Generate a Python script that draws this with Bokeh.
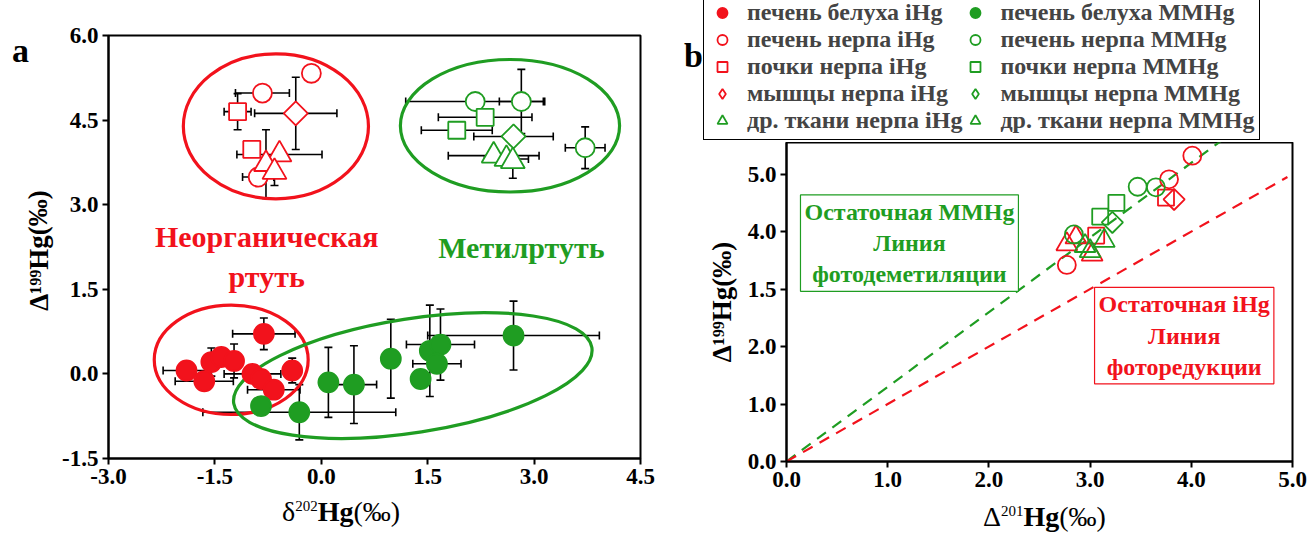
from bokeh.plotting import figure
from bokeh.models import (ColumnDataSource, Whisker, TeeHead, Label, Legend, LegendItem,
                          FixedTicker, PrintfTickFormatter, Div)
from bokeh.layouts import row, column
from bokeh.embed import file_html
from bokeh.resources import INLINE

RED = "#f2121c"
GREEN = "#1f9d22"
FONT = "Liberation Serif"

# ---------------- Panel a data: x = d202Hg, y = D199Hg ----------------
bel_i_x = [-0.81, -1.90, -1.65, -1.55, -1.41, -1.23, -0.97, -0.85, -0.67, -0.41]
bel_i_y = [0.71, 0.06, -0.13, 0.21, 0.30, 0.23, 0.00, -0.09, -0.28, 0.06]
bel_i_xe = [0.44, 0.33, 0.41, 0.0, 0.0, 0.0, 0.40, 0.0, 0.37, 0.0]
bel_i_ye = [0.28, 0.0, 0.0, 0.25, 0.0, 0.30, 0.0, 0.0, 0.0, 0.22]

bel_m_x = [-0.85, -0.31, 0.10, 0.46, 0.98, 1.40, 1.53, 1.68, 1.63, 2.71]
bel_m_y = [-0.57, -0.68, -0.15, -0.19, 0.27, -0.09, 0.41, 0.52, 0.18, 0.68]
bel_m_xe = [0.0, 1.36, 0.0, 0.32, 0.0, 0.0, 0.0, 0.48, 0.34, 1.21]
bel_m_ye = [0.0, 0.49, 0.62, 0.69, 0.70, 0.0, 0.81, 0.63, 0.0, 0.61]

liv_i_x = [-0.14, -0.83, -0.89]
liv_i_y = [5.33, 4.98, 3.49]
liv_i_xe = [0.12, 0.38, 0.22]
liv_i_ye = [0.0, 0.0, 0.0]

kid_i_x = [-1.18, -0.98]
kid_i_y = [4.65, 3.98]
kid_i_xe = [0.19, 0.0]
kid_i_ye = [0.32, 0.0]

mus_i_x = [-0.36]
mus_i_y = [4.62]
mus_i_xe = [0.58]
mus_i_ye = [0.64]

oth_i_x = [-0.59, -0.78, -0.66]
oth_i_y = [3.89, 3.72, 3.58]
oth_i_xe = [0.60, 0.0, 0.0]
oth_i_ye = [0.0, 0.61, 0.24]

liv_m_x = [2.17, 2.82, 3.72]
liv_m_y = [4.83, 4.83, 4.01]
liv_m_xe = [0.98, 0.31, 0.28]
liv_m_ye = [0.0, 0.57, 0.37]

kid_m_x = [2.31, 1.91]
kid_m_y = [4.55, 4.32]
kid_m_xe = [0.66, 0.50]
kid_m_ye = [0.0, 0.0]

mus_m_x = [2.71]
mus_m_y = [4.21]
mus_m_xe = [0.56]
mus_m_ye = [0.0]

oth_m_x = [2.43, 2.61, 2.70]
oth_m_y = [3.87, 3.81, 3.77]
oth_m_xe = [0.64, 0.31, 0.0]
oth_m_ye = [0.0, 0.0, 0.30]

# grouping ellipses (centre, width, height, angle)
ell_x = [-0.64, 2.66, -1.27, 1.29]
ell_y = [4.39, 4.40, 0.25, -0.03]
ell_w = [2.61, 3.09, 2.17, 5.11]
ell_h = [2.57, 2.35, 1.94, 2.02]
ell_angle = [0.0, 0.0, 0.0, 0.155]
ell_color = [RED, GREEN, RED, GREEN]

a_xticks = [-3.0, -1.5, 0.0, 1.5, 3.0, 4.5]
a_yticks = [-1.5, 0.0, 1.5, 3.0, 4.5, 6.0]

# ---------------- Panel b data: x = D201Hg, y = D199Hg ----------------
b_liv_i_x = [4.01, 3.78, 2.77]
b_liv_i_y = [5.32, 4.91, 3.42]
b_kid_i_x = [3.75, 3.06]
b_kid_i_y = [4.59, 3.93]
b_mus_i_x = [3.83]
b_mus_i_y = [4.56]
b_oth_i_x = [2.86, 2.77, 3.02]
b_oth_i_y = [3.90, 3.78, 3.60]
b_liv_m_x = [3.47, 3.65, 2.84]
b_liv_m_y = [4.78, 4.77, 3.95]
b_kid_m_x = [3.26, 3.10]
b_kid_m_y = [4.50, 4.26]
b_mus_m_x = [3.22]
b_mus_m_y = [4.16]
b_oth_m_x = [3.14, 2.95, 3.00]
b_oth_m_y = [3.84, 3.75, 3.66]

mmhg_line_x = [0.0, 4.35]
mmhg_line_y = [0.0, 5.65]
ihg_line_x = [0.0, 4.95]
ihg_line_y = [0.0, 4.95]

b_xticks = [0.0, 1.0, 2.0, 3.0, 4.0, 5.0]
b_yticks = [0.0, 1.0, 2.0, 3.0, 4.0, 5.0]
b_ytick_override = {3.0: "1.5"}

legend_labels = ["печень белуха iHg", "печень нерпа iHg", "почки нерпа iHg",
                 "мышцы нерпа iHg", "др. ткани нерпа iHg",
                 "печень белуха MMHg", "печень нерпа MMHg", "почки нерпа MMHg",
                 "мышцы нерпа MMHg", "др. ткани нерпа MMHg"]


def style(p):
    p.grid.visible = False
    p.outline_line_color = "black"
    p.outline_line_width = 2
    p.outline_line_alpha = 1
    p.background_fill_color = "white"
    p.border_fill_color = "white"
    for ax in p.axis:
        ax.axis_line_width = 2
        ax.major_tick_line_width = 2
        ax.major_tick_out = 6
        ax.major_tick_in = 0
        ax.minor_tick_out = 0
        ax.minor_tick_in = 0
        ax.major_label_text_font = FONT
        ax.major_label_text_font_style = "bold"
        ax.major_label_text_font_size = "23px"
        ax.major_label_text_color = "black"
        ax.axis_label_text_font = FONT
        ax.axis_label_text_font_style = "bold"
        ax.axis_label_text_font_size = "27px"
        ax.axis_label_text_color = "black"
        ax.major_label_standoff = 4


def strip(width, height):
    s = figure(width=width, height=height, x_range=(100, 101), y_range=(100, 101),
               output_backend="svg", toolbar_location=None, frame_align=False,
               x_axis_type=None, y_axis_type=None, title=None,
               min_border_left=0, min_border_right=0, min_border_top=0, min_border_bottom=0)
    s.grid.visible = False
    s.outline_line_color = None
    s.border_fill_color = "white"
    s.background_fill_color = "white"
    return s


def axis_title(sym, sup, width, height, left, top):
    html = (f'<div style="padding-left:{left}px;padding-top:{top}px;font-family:\'Liberation Serif\';'
            f'font-size:28px;line-height:28px;color:black;white-space:nowrap;">{sym}'
            f'<span style="font-size:15px;position:relative;top:-10px;">{sup}</span>'
            f'<b>Hg</b>(‰)</div>')
    return Div(text=html, width=width, height=height, margin=(0, 0, 0, 0))


def errors(p, xs, ys, xe, ye):
    hx = [(x, y, e) for x, y, e in zip(xs, ys, xe) if e > 0]
    if hx:
        src = ColumnDataSource(dict(base=[h[1] for h in hx],
                                    lower=[h[0] - h[2] for h in hx],
                                    upper=[h[0] + h[2] for h in hx]))
        p.add_layout(Whisker(source=src, base="base", lower="lower", upper="upper",
                             dimension="width", line_color="black", line_width=1.6,
                             upper_head=TeeHead(size=8, line_color="black", line_width=1.6),
                             lower_head=TeeHead(size=8, line_color="black", line_width=1.6)))
    vy = [(x, y, e) for x, y, e in zip(xs, ys, ye) if e > 0]
    if vy:
        src = ColumnDataSource(dict(base=[v[0] for v in vy],
                                    lower=[v[1] - v[2] for v in vy],
                                    upper=[v[1] + v[2] for v in vy]))
        p.add_layout(Whisker(source=src, base="base", lower="lower", upper="upper",
                             dimension="height", line_color="black", line_width=1.6,
                             upper_head=TeeHead(size=8, line_color="black", line_width=1.6),
                             lower_head=TeeHead(size=8, line_color="black", line_width=1.6)))


def markers(p, sets, filled_bg):
    rs = []
    for xs, ys, marker, color, filled, size, ang in sets:
        r = p.scatter(x=xs, y=ys, marker=marker, size=size, angle=ang,
                      fill_color=color if filled else (filled_bg or "white"),
                      fill_alpha=1 if (filled or filled_bg) else 0,
                      line_color=color, line_width=1.8)
        rs.append(r)
    return rs


# ======================= Panel a =======================
sa = strip(58, 537)   # left strip: panel letter and y-axis title
sa.add_layout(Label(x=20, y=487, x_units="screen", y_units="screen", text="a",
                    text_align="center", text_baseline="middle", text_font=FONT,
                    text_font_style="bold", text_font_size="34px", text_color="black"))
sa.add_layout(Label(x=38, y=287, x_units="screen", y_units="screen", text="Δ¹⁹⁹Hg(‰)",
                    angle=1.5708, text_align="center", text_baseline="middle", text_font=FONT,
                    text_font_style="bold", text_font_size="27px", text_color="black"))

pa = figure(frame_width=532, frame_height=423, x_range=(-3.0, 4.5), y_range=(-1.5, 6.0),
            output_backend="svg", toolbar_location=None, frame_align=False,
            min_border_left=50, min_border_right=28, min_border_top=35, min_border_bottom=38)
style(pa)
pa.xaxis.ticker = FixedTicker(ticks=a_xticks)
pa.yaxis.ticker = FixedTicker(ticks=a_yticks)
pa.xaxis.formatter = PrintfTickFormatter(format="%.1f")
pa.yaxis.formatter = PrintfTickFormatter(format="%.1f")

pa.ellipse(x=ell_x, y=ell_y, width=ell_w, height=ell_h, angle=ell_angle,
           fill_alpha=0, line_color=ell_color, line_width=3.2)

for xs, ys, xe, ye in [(bel_i_x, bel_i_y, bel_i_xe, bel_i_ye), (bel_m_x, bel_m_y, bel_m_xe, bel_m_ye),
                       (liv_i_x, liv_i_y, liv_i_xe, liv_i_ye), (kid_i_x, kid_i_y, kid_i_xe, kid_i_ye),
                       (mus_i_x, mus_i_y, mus_i_xe, mus_i_ye), (oth_i_x, oth_i_y, oth_i_xe, oth_i_ye),
                       (liv_m_x, liv_m_y, liv_m_xe, liv_m_ye), (kid_m_x, kid_m_y, kid_m_xe, kid_m_ye),
                       (mus_m_x, mus_m_y, mus_m_xe, mus_m_ye), (oth_m_x, oth_m_y, oth_m_xe, oth_m_ye)]:
    errors(pa, xs, ys, xe, ye)

a_sets = [
    (bel_i_x, bel_i_y, "circle", RED, True, 20, 0),
    (liv_i_x, liv_i_y, "circle", RED, False, 19, 0),
    (kid_i_x, kid_i_y, "square", RED, False, 17, 0),
    (mus_i_x, mus_i_y, "square", RED, False, 17, 0.785398),
    (oth_i_x, oth_i_y, "triangle", RED, False, 24, 0),
    (bel_m_x, bel_m_y, "circle", GREEN, True, 20, 0),
    (liv_m_x, liv_m_y, "circle", GREEN, False, 19, 0),
    (kid_m_x, kid_m_y, "square", GREEN, False, 17, 0),
    (mus_m_x, mus_m_y, "square", GREEN, False, 17, 0.785398),
    (oth_m_x, oth_m_y, "triangle", GREEN, False, 24, 0),
]
markers(pa, a_sets, "white")

pa.add_layout(Label(x=-0.77, y=2.08, text="Неорганическая\nртуть", text_align="center",
                    text_baseline="middle", text_font=FONT, text_font_style="bold",
                    text_font_size="30px", text_color=RED))
pa.add_layout(Label(x=2.82, y=2.24, text="Метилртуть", text_align="center",
                    text_baseline="middle", text_font=FONT, text_font_style="bold",
                    text_font_size="30px", text_color=GREEN))

xa = axis_title("δ", "202", 610, 41, 224, 2)

# ======================= Panel b legend strip =======================
pl = strip(643, 142)
leg_sets = [
    (bel_i_x, bel_i_y, "circle", RED, True, 11, 0),
    (b_liv_i_x, b_liv_i_y, "circle", RED, False, 11, 0),
    (b_kid_i_x, b_kid_i_y, "square", RED, False, 11, 0),
    (b_mus_i_x, b_mus_i_y, "diamond", RED, False, 14, 0),
    (b_oth_i_x, b_oth_i_y, "triangle", GREEN, False, 13, 0),
    (bel_m_x, bel_m_y, "circle", GREEN, True, 11, 0),
    (b_liv_m_x, b_liv_m_y, "circle", GREEN, False, 11, 0),
    (b_kid_m_x, b_kid_m_y, "square", GREEN, False, 11, 0),
    (b_mus_m_x, b_mus_m_y, "diamond", GREEN, False, 14, 0),
    (b_oth_m_x, b_oth_m_y, "triangle", GREEN, False, 13, 0),
]
rl = markers(pl, leg_sets, None)
items = [LegendItem(label=lab, renderers=[r]) for lab, r in zip(legend_labels, rl)]
legend = Legend(items=items, location=(35, 2), ncols=2, orientation="vertical",
                label_text_font=FONT, label_text_font_style="bold", label_text_font_size="24px",
                glyph_height=25, glyph_width=26, label_height=24, spacing=0, padding=5,
                margin=0, label_standoff=12, border_line_color="black", border_line_width=1.5,
                border_line_alpha=1, background_fill_alpha=1)
pl.add_layout(legend)
pl.add_layout(Label(x=25, y=87, x_units="screen", y_units="screen", text="b",
                    text_align="center", text_baseline="middle", text_font=FONT,
                    text_font_style="bold", text_font_size="34px", text_color="black"))

# ======================= Panel b =======================
pb = figure(frame_width=506, frame_height=319, x_range=(0.0, 5.0), y_range=(0.0, 5.55),
            output_backend="svg", toolbar_location=None, frame_align=False,
            min_border_left=118, min_border_right=19, min_border_top=0, min_border_bottom=38,
            y_axis_label="Δ¹⁹⁹Hg(‰)")
style(pb)
pb.xaxis.ticker = FixedTicker(ticks=b_xticks)
pb.yaxis.ticker = FixedTicker(ticks=b_yticks)
pb.xaxis.formatter = PrintfTickFormatter(format="%.1f")
pb.yaxis.formatter = PrintfTickFormatter(format="%.1f")
pb.yaxis.major_label_overrides = b_ytick_override
pb.yaxis.axis_label_standoff = 8

pb.line(mmhg_line_x, mmhg_line_y, line_color=GREEN, line_width=2.2, line_dash="11 8")
pb.line(ihg_line_x, ihg_line_y, line_color=RED, line_width=2.2, line_dash="11 8")

b_sets = [
    (b_liv_i_x, b_liv_i_y, "circle", RED, False, 18, 0),
    (b_kid_i_x, b_kid_i_y, "square", RED, False, 16, 0),
    (b_mus_i_x, b_mus_i_y, "square", RED, False, 15, 0.785398),
    (b_oth_i_x, b_oth_i_y, "triangle", RED, False, 21, 0),
    (b_liv_m_x, b_liv_m_y, "circle", GREEN, False, 18, 0),
    (b_kid_m_x, b_kid_m_y, "square", GREEN, False, 16, 0),
    (b_mus_m_x, b_mus_m_y, "square", GREEN, False, 15, 0.785398),
    (b_oth_m_x, b_oth_m_y, "triangle", GREEN, False, 21, 0),
]
markers(pb, b_sets, None)

pb.add_layout(Label(x=1.215, y=3.80, text="Остаточная MMHg\nЛиния\nфотодеметиляции",
                    text_align="center", text_baseline="middle", text_font=FONT,
                    text_font_style="bold", text_font_size="24px", text_color=GREEN,
                    border_line_color=GREEN, border_line_width=1.2, padding=4,
                    background_fill_color="white"))
pb.add_layout(Label(x=3.93, y=2.19, text="Остаточная iHg\nЛиния\nфоторедукции",
                    text_align="center", text_baseline="middle", text_font=FONT,
                    text_font_style="bold", text_font_size="24px", text_color=RED,
                    border_line_color=RED, border_line_width=1.2, padding=4,
                    background_fill_color="white"))

xb = axis_title("Δ", "201", 643, 38, 315, 4)

layout = row(sa, column(pa, xa, spacing=0), column(pl, pb, xb, spacing=0), spacing=0)
open("out.html", "w").write(file_html(layout, INLINE))
